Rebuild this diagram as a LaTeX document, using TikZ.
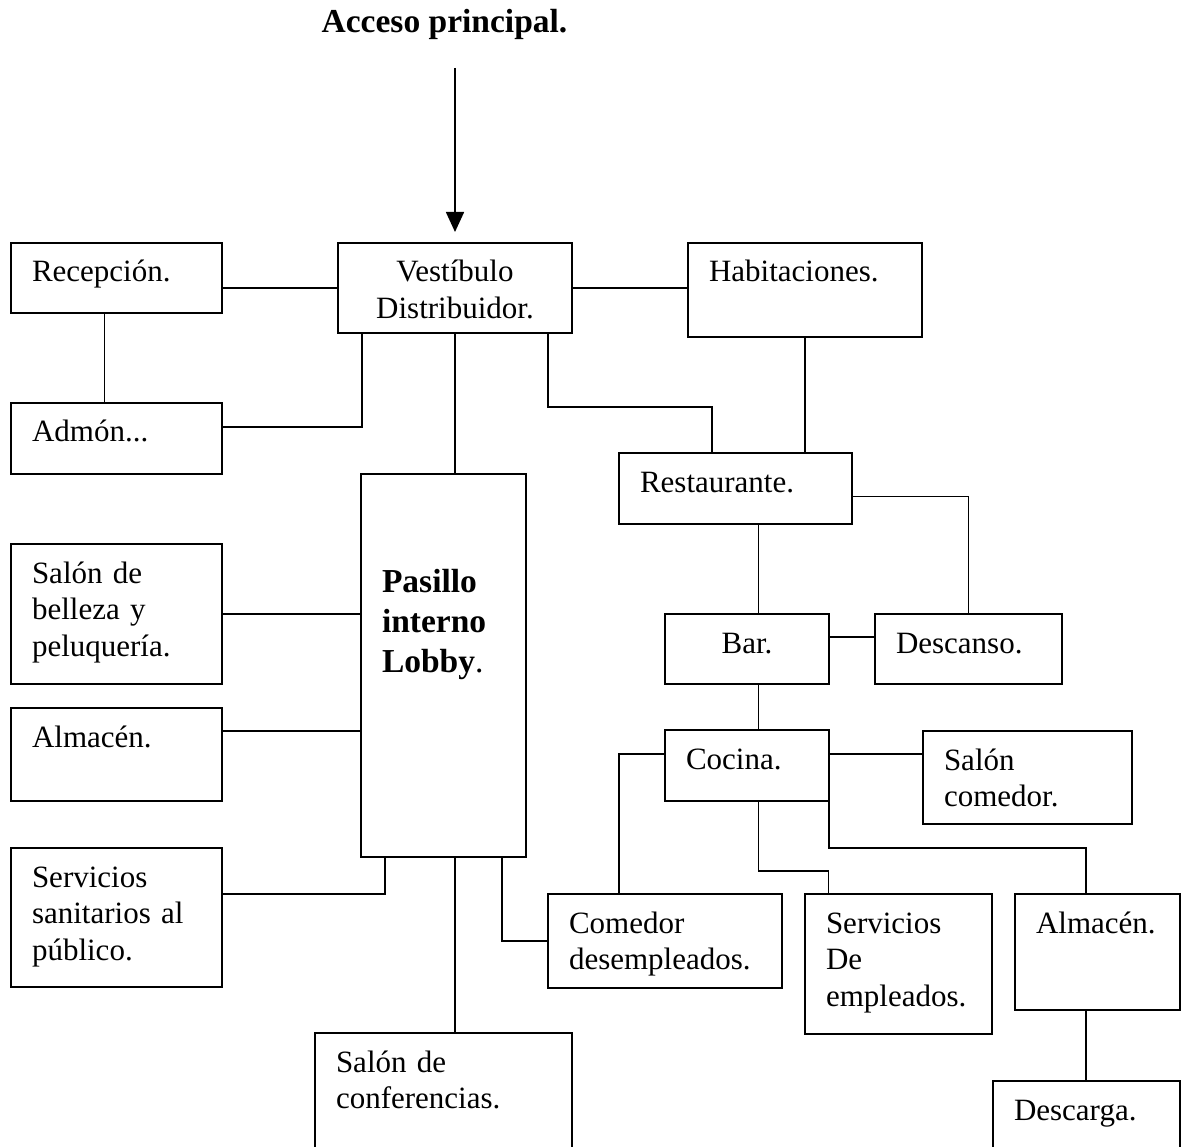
\documentclass[tikz,border=0pt]{standalone}
\usepackage{fontspec}
\setmainfont{Liberation Serif}
\usetikzlibrary{positioning,arrows.meta}

\begin{document}
\begin{tikzpicture}[
        x=1pt, y=-1pt,
        room/.style 2 args={
                rectangle,
                draw=black,
                line width=2.6pt,
                outer sep=0pt,
                anchor=north west,
                inner xsep=21pt,
                inner ysep=0pt,
                align=left,
                text width=#1-42,
                minimum width=#1,
                text height=39pt,
                text depth=#2-39,
                font=\fontsize{31pt}{36.7pt}\selectfont
            },
        lobby/.style={font=\fontsize{33.5pt}{40pt}\selectfont},
        title/.style={font=\fontsize{33.5pt}{40pt}\selectfont\bfseries},
        link/.style={draw=black, line width=1.6pt},
        >={Triangle[length=20pt,width=18pt]}
    ]
    \path[use as bounding box] (0,0) rectangle (1189,1147);
    \clip (0,0) rectangle (1189,1147);

    \node[title, anchor=base] (acceso) at (444.5,33) {Acceso principal.};
    \coordinate (entrada) at (455,68);

    \node[room={211}{70}] (recepcion) at (11,243) {Recepción.};
    \node[room={234}{90}, align=center] (vestibulo) at (338,243) {Vestíbulo\\Distribuidor.};
    \node[room={234}{94}] (habitaciones) at (688,243) {Habitaciones.};
    \node[room={211}{71}] (admon) at (11,403) {Admón...};
    \node[room={165}{304}, text height=118pt, lobby] (pasillo) at (361,474) {\textbf{Pasillo}\\\textbf{interno}\\\textbf{Lobby}.};
    \node[room={233}{71}] (restaurante) at (619,453) {Restaurante.};
    \node[room={211}{140}] (belleza) at (11,544) {Salón de\\belleza y\\peluquería.};
    \node[room={164}{70}, align=center] (bar) at (665,614) {Bar.};
    \node[room={187}{70}] (descanso) at (875,614) {Descanso.};
    \node[room={211}{93}] (almacenL) at (11,708) {Almacén.};
    \node[room={164}{71}] (cocina) at (665,730) {Cocina.};
    \node[room={209}{93}] (comedor) at (923,731) {Salón\\comedor.};
    \node[room={211}{139}] (sanitarios) at (11,848) {Servicios\\sanitarios al\\público.};
    \node[room={234}{94}] (empleados) at (548,894) {Comedor\\desempleados.};
    \node[room={187}{140}] (servicios) at (805,894) {Servicios\\De\\empleados.};
    \node[room={165}{116}] (almacenR) at (1015,894) {Almacén.};
    \node[room={257}{130}] (conferencias) at (315,1033) {Salón de\\conferencias.};
    \node[room={187}{80}] (descarga) at (993,1081) {Descarga.};

    % entrada
    \draw[link, ->, shorten >=11pt] (entrada) -- (vestibulo.north);

    % vestibulo
    \draw[link] (recepcion.east |- vestibulo.west) -- (vestibulo.west);
    \draw[link] (vestibulo.east) -- (vestibulo.east -| habitaciones.west);
    \draw[link] ([xshift=-12pt]recepcion.south) -- ([xshift=-12pt]recepcion.south |- admon.north);
    \draw[link] ([xshift=24pt]vestibulo.south west) |- ([yshift=11.5pt]admon.east);
    \draw[link] (vestibulo.south) -- (vestibulo.south |- pasillo.north);
    \draw[link] ([xshift=-24pt]vestibulo.south east) -- ++(0,74) -| ([xshift=-23.5pt]restaurante.north);
    \draw[link] (habitaciones.south) -- (habitaciones.south |- restaurante.north);

    % restaurante
    \draw[link] ([yshift=-8pt]restaurante.east) -| (descanso.north);
    \draw[link] ([xshift=11.5pt]bar.north) -- ([xshift=11.5pt]bar.north |- restaurante.south);
    \draw[link] ([yshift=12pt]bar.east) -- ([yshift=12pt]bar.east -| descanso.west);
    \draw[link] ([xshift=11.5pt]bar.south) -- ([xshift=11.5pt]bar.south |- cocina.north);

    % cocina
    \draw[link] ([yshift=11.5pt]cocina.east) -- ([yshift=11.5pt]cocina.east -| comedor.west);
    \draw[link] ([yshift=11.5pt]cocina.west) -| ([xshift=-46pt]empleados.north);
    \draw[link] ([xshift=11.5pt]cocina.south) -- ++(0,70) -| ([xshift=-70pt]servicios.north);
    \draw[link] (cocina.south east) -- ++(0,47) -| ([xshift=-11.5pt]almacenR.north);
    \draw[link] ([xshift=-11.5pt]almacenR.south) -- ([xshift=-11.5pt]almacenR.south |- descarga.north);

    % pasillo
    \draw[link] (belleza.east) -- (belleza.east -| pasillo.west);
    \draw[link] ([yshift=23.5pt]almacenL.east) -- ([yshift=23.5pt]almacenL.east -| pasillo.west);
    \draw[link] ([xshift=24pt]pasillo.south west) |- ([yshift=23.5pt]sanitarios.east);
    \draw[link] ([xshift=11.5pt]pasillo.south) -- ([xshift=11.5pt]pasillo.south |- conferencias.north);
    \draw[link] ([xshift=-24pt]pasillo.south east) |- (empleados.west);
\end{tikzpicture}
\end{document}
